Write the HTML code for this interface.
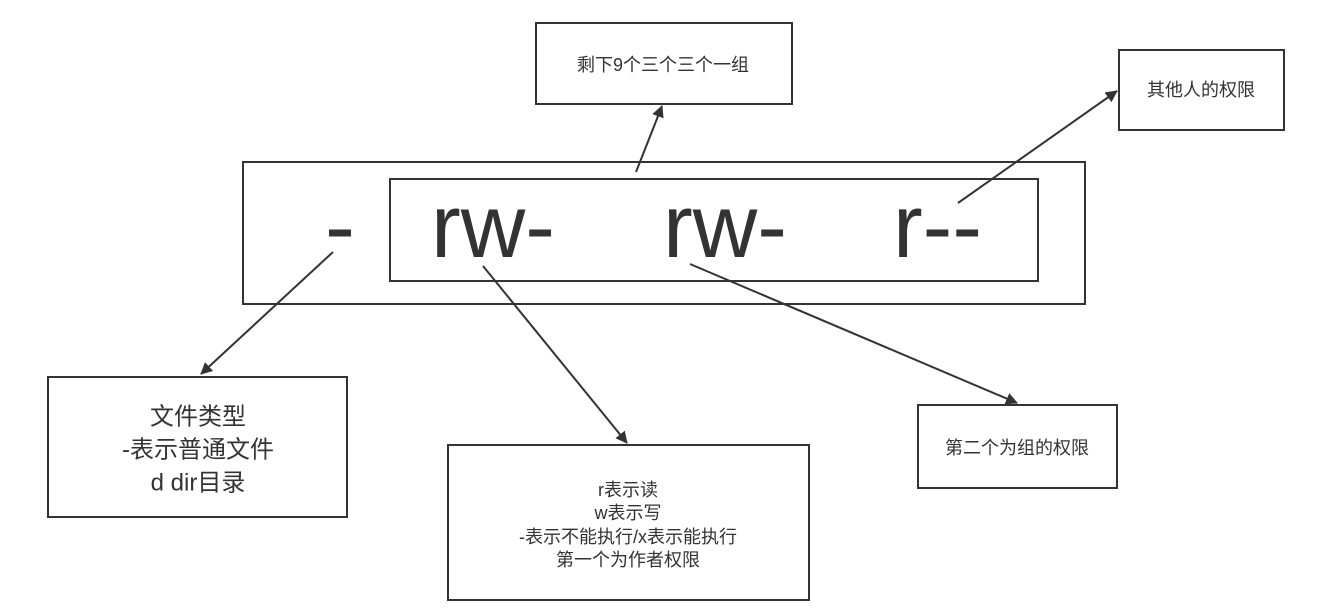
<!DOCTYPE html>
<html><head><meta charset="utf-8"><style>
html,body{margin:0;padding:0;background:#fff;}
svg{display:block;}
text{font-family:"Liberation Sans","Noto Sans CJK SC",sans-serif;fill:#333;}
</style></head><body>
<svg width="1329" height="610" viewBox="0 0 1329 610" xmlns="http://www.w3.org/2000/svg">
<defs>
<marker id="a" markerWidth="12" markerHeight="12" refX="11" refY="6" orient="auto" markerUnits="userSpaceOnUse" viewBox="0 0 12 12">
<path d="M0,0 L12,6 L0,12 Z" fill="#333"/>
</marker>
</defs>
<g fill="none" stroke="#333" stroke-width="2">
<rect x="243" y="162" width="842" height="142"/>
<rect x="390" y="179" width="648" height="102"/>
<rect x="536" y="23" width="256" height="81"/>
<rect x="1119" y="50" width="165" height="80"/>
<rect x="48" y="377" width="299" height="140"/>
<rect x="448" y="445" width="361" height="155"/>
<rect x="918" y="405" width="199" height="83"/>
</g>
<g stroke="#333" stroke-width="2" fill="none">
<line x1="636" y1="172" x2="662" y2="106" marker-end="url(#a)"/>
<line x1="958" y1="203" x2="1117" y2="91" marker-end="url(#a)"/>
<line x1="333" y1="252" x2="201" y2="374" marker-end="url(#a)"/>
<line x1="483" y1="266" x2="627" y2="443" marker-end="url(#a)"/>
<line x1="690" y1="264" x2="1017" y2="403" marker-end="url(#a)"/>
</g>
<g font-size="90" text-anchor="start">
<text x="325" y="257" font-size="90" textLength="30" lengthAdjust="spacingAndGlyphs">-</text>
<text x="431" y="257" textLength="124" lengthAdjust="spacingAndGlyphs">rw-</text>
<text x="663" y="257" textLength="124" lengthAdjust="spacingAndGlyphs">rw-</text>
<text x="893" y="257" textLength="89" lengthAdjust="spacingAndGlyphs">r--</text>
</g>
<g text-anchor="middle" dominant-baseline="central">
<text x="663" y="65" font-size="18">剩下9个三个三个一组</text>
<text x="1201" y="90" font-size="18">其他人的权限</text>
<text x="198" y="417" font-size="24">文件类型</text>
<text x="198" y="450" font-size="24">-表示普通文件</text>
<text x="198" y="483" font-size="24">d dir目录</text>
<text x="628" y="490" font-size="18">r表示读</text>
<text x="628" y="513" font-size="18">w表示写</text>
<text x="628" y="537" font-size="18">-表示不能执行/x表示能执行</text>
<text x="628" y="560" font-size="18">第一个为作者权限</text>
<text x="1017" y="448" font-size="18">第二个为组的权限</text>
</g>
</svg>
</body></html>
